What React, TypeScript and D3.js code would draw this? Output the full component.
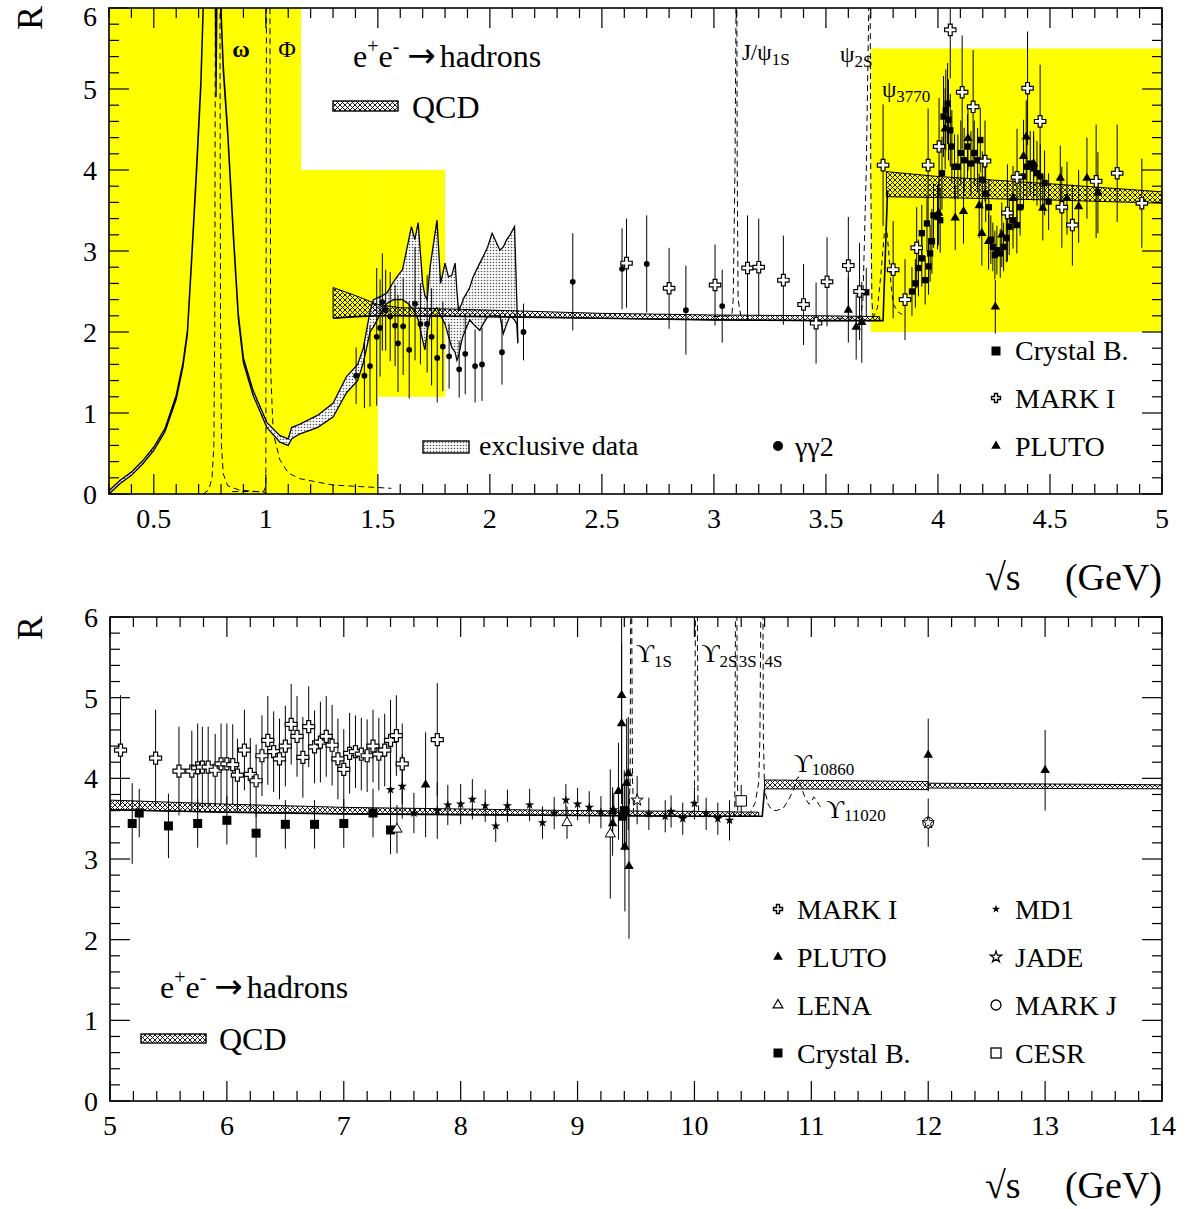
import React from "react";
import * as d3 from "d3";

// ---------------- data ----------------
// exclusive data band (top panel): x, lower, upper
const excX = [0.3, 0.35, 0.4, 0.45, 0.5, 0.55, 0.6, 0.63, 0.65, 0.67, 0.69, 0.71, 0.72, 0.73, 0.77, 0.775, 0.778, 0.783, 0.8, 0.81, 0.83, 0.855, 0.877, 0.9, 0.943, 1.005, 1.063, 1.1, 1.115, 1.15, 1.23, 1.3, 1.36, 1.41, 1.435, 1.465, 1.48, 1.52, 1.54, 1.57, 1.585, 1.61, 1.635, 1.65, 1.665, 1.68, 1.7, 1.71, 1.72, 1.733, 1.764, 1.78, 1.8, 1.815, 1.83, 1.845, 1.853, 1.86, 1.875, 1.88, 1.91, 1.925, 1.955, 1.97, 1.99, 2.01, 2.045, 2.06, 2.075, 2.09, 2.11, 2.12, 2.125];
const excLo = [0.0, 0.13, 0.23, 0.37, 0.54, 0.77, 1.17, 1.57, 1.97, 2.92, 3.92, 5.02, 5.92, 7.0, 7.0, 6.0, 4.9, 6.5, 5.92, 5.22, 4.42, 3.17, 2.17, 1.62, 1.22, 0.82, 0.64, 0.6, 0.68, 0.74, 0.82, 0.95, 1.25, 1.4, 1.62, 2.0, 2.06, 2.27, 2.35, 2.4, 2.4, 2.4, 2.35, 2.3, 2.25, 2.15, 1.9, 1.78, 2.0, 2.2, 2.3, 2.2, 2.1, 1.95, 1.81, 1.75, 1.65, 1.7, 1.9, 1.95, 2.15, 2.1, 2.02, 2.1, 2.19, 2.2, 2.2, 1.98, 2.1, 2.2, 2.15, 2.1, 1.86];
const excHi = [0.04, 0.17, 0.27, 0.41, 0.58, 0.81, 1.22, 1.62, 2.02, 2.98, 4.0, 5.1, 6.0, 7.2, 7.2, 6.2, 5.2, 7.0, 6.0, 5.3, 4.48, 3.24, 2.23, 1.68, 1.28, 0.88, 0.72, 0.68, 0.82, 0.86, 0.97, 1.12, 1.45, 1.6, 1.8, 2.25, 2.4, 2.45, 2.48, 2.62, 2.68, 2.77, 3.1, 3.3, 3.14, 3.35, 2.6, 2.45, 2.4, 2.8, 3.38, 2.6, 2.85, 2.68, 2.7, 2.85, 2.5, 2.27, 2.35, 2.4, 2.55, 2.68, 2.85, 2.93, 3.05, 3.22, 3.01, 3.05, 3.14, 3.2, 3.3, 2.4, 1.9];

// QCD bands (top panel)
const qcdT1X = [1.3, 1.4, 1.5, 1.6, 2.0, 2.5, 3.0, 3.5, 3.74];
const qcdT1Lo = [2.17, 2.19, 2.2, 2.2, 2.19, 2.17, 2.15, 2.14, 2.14];
const qcdT1Hi = [2.55, 2.45, 2.34, 2.3, 2.27, 2.23, 2.21, 2.2, 2.19];
const qcdT2X = [3.77, 4.0, 4.5, 5.0];
const qcdT2Lo = [3.67, 3.66, 3.63, 3.59];
const qcdT2Hi = [3.98, 3.92, 3.83, 3.73];
const stepTop = [[3.74, 2.14], [3.755, 2.14], [3.775, 3.75]];

// QCD bands (bottom panel)
const qcdB1X = [5.0, 6, 7, 8, 9, 10, 10.55];
const qcdB1Lo = [3.61, 3.58, 3.56, 3.55, 3.54, 3.53, 3.53];
const qcdB1Hi = [3.73, 3.68, 3.64, 3.62, 3.6, 3.59, 3.58];
const qcdB2X = [10.6, 12.0];
const qcdB2Lo = [3.87, 3.86];
const qcdB2Hi = [3.98, 3.96];
const qcdB3X = [12.0, 14.0];
const qcdB3Lo = [3.88, 3.87];
const qcdB3Hi = [3.94, 3.92];
const stepBot = [[10.55, 3.53], [10.58, 3.53], [10.6, 3.87]];

// resonance curves (dashed)
const omegaCurve = [[0.72, 0.0], [0.745, 0.05], [0.76, 0.2], [0.768, 0.6], [0.772, 2], [0.775, 6.5], [0.795, 6.5], [0.798, 2], [0.802, 0.6], [0.81, 0.25], [0.83, 0.1], [0.88, 0.05], [1.0, 0.02]];
const phiCurve = [[0.85, 0.03], [0.99, 0.03], [1.0, 0.1], [1.003, 6.5], [1.018, 6.5], [1.022, 1.5], [1.033, 0.75], [1.063, 0.42], [1.1, 0.26], [1.15, 0.19], [1.3, 0.11], [1.5, 0.08], [1.56, 0.07]];
const jpsiCurve = [[3.0, 2.19], [3.08, 2.2], [3.086, 2.4], [3.094, 4], [3.1, 6.5], [3.102, 6.5], [3.104, 4], [3.108, 2.4], [3.12, 2.2]];
const psi2Curve = [[3.55, 2.17], [3.655, 2.18], [3.665, 2.4], [3.68, 4], [3.694, 6.5], [3.697, 6.5], [3.7, 4], [3.705, 2.4], [3.71, 2.2]];
const psi3770Curve = [[3.71, 2.17], [3.73, 2.3], [3.745, 2.7], [3.76, 3.2], [3.77, 3.3], [3.78, 3.0], [3.79, 2.6], [3.8, 2.35], [3.82, 2.25], [3.85, 2.2]];
const ups1Curve = [[9.35, 3.55], [9.44, 3.56], [9.45, 4], [9.455, 6.5], [9.462, 6.5], [9.47, 4], [9.48, 3.56]];
const ups2Curve = [[9.95, 3.56], [9.99, 3.6], [10.0, 3.7], [10.01, 6.5], [10.025, 6.5], [10.03, 3.7], [10.04, 3.56]];
const ups3Curve = [[10.33, 3.52], [10.345, 3.6], [10.352, 6.5], [10.362, 6.5], [10.37, 3.6], [10.38, 3.52]];
const ups4Curve = [[10.45, 3.55], [10.48, 3.58], [10.52, 3.7], [10.55, 3.95], [10.56, 4.5], [10.57, 6.5], [10.585, 6.5], [10.59, 4.5], [10.6, 3.86], [10.63, 3.68], [10.66, 3.61], [10.7, 3.6], [10.76, 3.63], [10.8, 3.72], [10.85, 3.86], [10.87, 3.98], [10.89, 4.02], [10.91, 3.9], [10.95, 3.75], [10.98, 3.68], [11.0, 3.7], [11.02, 3.77], [11.04, 3.74], [11.07, 3.66], [11.1, 3.61]];

// yellow regions (top panel): xmin, xmax, Rmin, Rmax
const yellowRegions = [[0.3, 1.157, 0, 6], [0.3, 1.5, 0, 4], [1.5, 1.8, 1.2, 4], [3.7, 5.0, 2, 5.5]];

// measurements: [sqrt(s), R, error]
const gg2Top = [[1.403, 1.46, 0.35], [1.44, 1.46, 0.4], [1.465, 1.58, 0.5], [1.495, 1.94, 0.85], [1.51, 2.05, 0.6], [1.52, 2.37, 0.6], [1.535, 2.27, 0.5], [1.555, 2.19, 0.55], [1.577, 2.08, 0.5], [1.59, 1.86, 0.6], [1.613, 2.07, 0.6], [1.64, 1.78, 0.6], [1.666, 2.35, 0.7], [1.69, 2.1, 0.5], [1.72, 2.1, 0.6], [1.74, 1.94, 0.6], [1.765, 1.68, 0.55], [1.79, 1.82, 0.55], [1.818, 1.7, 0.4], [1.863, 1.54, 0.35], [1.89, 1.73, 0.5], [1.934, 1.58, 0.45], [1.965, 1.6, 0.45], [2.054, 1.75, 0.4], [2.15, 2.0, 0.35], [2.37, 2.62, 0.6], [2.59, 2.78, 0.5], [2.7, 2.84, 0.6], [2.875, 2.27, 0.55], [3.037, 2.32, 0.45]];
const markITop = [[2.61, 2.85, 0.55], [2.8, 2.54, 0.5], [3.005, 2.58, 0.5], [3.15, 2.79, 0.65], [3.2, 2.8, 0.6], [3.31, 2.64, 0.55], [3.4, 2.34, 0.5], [3.456, 2.11, 0.5], [3.505, 2.62, 0.55], [3.6, 2.82, 0.6], [3.65, 2.5, 0.6], [3.755, 4.06, 0.75], [3.8, 2.77, 0.6], [3.853, 2.4, 0.5], [3.905, 3.04, 0.5], [3.956, 4.06, 0.7], [4.005, 4.29, 0.6], [4.055, 5.73, 0.6], [4.108, 4.96, 0.7], [4.157, 4.78, 0.7], [4.21, 4.11, 0.5], [4.31, 3.47, 0.6], [4.353, 3.91, 0.6], [4.4, 5.01, 0.7], [4.456, 4.6, 0.7], [4.553, 3.54, 0.5], [4.6, 3.32, 0.5], [4.706, 3.86, 0.7], [4.8, 3.96, 0.6], [4.91, 3.59, 0.55]];
const plutoTop = [[3.6, 2.27, 0.4], [3.635, 2.06, 0.4], [3.66, 2.12, 0.5], [4.003, 3.47, 0.4], [4.032, 4.51, 0.5], [4.077, 3.41, 0.4], [4.114, 3.49, 0.4], [4.134, 4.39, 0.4], [4.184, 3.56, 0.4], [4.196, 3.22, 0.4], [4.226, 3.12, 0.35], [4.256, 2.31, 0.33], [4.285, 3.2, 0.4], [4.335, 3.65, 0.4], [4.382, 4.17, 0.45], [4.394, 4.41, 0.45], [4.427, 4.08, 0.4], [4.468, 3.53, 0.4], [4.546, 3.9, 0.4], [4.576, 3.65, 0.45], [4.628, 3.55, 0.45], [4.665, 3.9, 0.5], [4.714, 3.72, 0.5]];
const crystalTop = [[3.68, 2.49, 0.3], [3.884, 2.5, 0.3], [3.899, 2.6, 0.3], [3.913, 2.79, 0.35], [3.928, 2.91, 0.35], [3.943, 2.64, 0.3], [3.958, 2.81, 0.35], [3.928, 3.22, 0.35], [3.951, 3.34, 0.35], [3.965, 2.97, 0.35], [3.973, 3.12, 0.4], [3.98, 3.44, 0.4], [3.998, 3.42, 0.4], [4.01, 3.38, 0.4], [4.018, 3.96, 0.45], [4.025, 4.66, 0.5], [4.035, 4.74, 0.5], [4.043, 4.82, 0.5], [4.047, 4.62, 0.5], [4.055, 4.49, 0.45], [4.062, 4.29, 0.45], [4.074, 4.04, 0.4], [4.089, 4.04, 0.4], [4.102, 4.21, 0.4], [4.117, 4.12, 0.4], [4.132, 4.29, 0.4], [4.147, 4.08, 0.4], [4.162, 4.21, 0.4], [4.177, 4.12, 0.4], [4.189, 4.37, 0.4], [4.198, 3.88, 0.35], [4.213, 3.71, 0.35], [4.227, 3.54, 0.35], [4.236, 3.14, 0.3], [4.245, 3.05, 0.3], [4.254, 2.95, 0.3], [4.263, 3.01, 0.3], [4.278, 2.97, 0.3], [4.293, 3.05, 0.3], [4.305, 3.16, 0.3], [4.318, 3.3, 0.35], [4.335, 3.38, 0.35], [4.352, 3.32, 0.35], [4.367, 3.54, 0.35], [4.382, 3.92, 0.4], [4.397, 4.04, 0.4], [4.412, 4.08, 0.4], [4.427, 4.02, 0.4], [4.442, 3.96, 0.4], [4.457, 3.92, 0.4], [4.476, 3.84, 0.4], [4.494, 3.61, 0.35]];

const markIBot = [[5.09, 4.35, 0.68], [5.39, 4.25, 0.6], [5.59, 4.09, 0.55], [5.7, 4.09, 0.5], [5.75, 4.13, 0.55], [5.79, 4.14, 0.5], [5.84, 4.14, 0.5], [5.9, 4.1, 0.45], [5.95, 4.18, 0.5], [6.0, 4.18, 0.5], [6.05, 4.17, 0.5], [6.09, 4.04, 0.45], [6.15, 4.35, 0.5], [6.2, 4.05, 0.45], [6.25, 3.97, 0.45], [6.3, 4.28, 0.5], [6.35, 4.47, 0.55], [6.4, 4.33, 0.5], [6.45, 4.24, 0.5], [6.5, 4.4, 0.5], [6.55, 4.67, 0.5], [6.6, 4.52, 0.5], [6.65, 4.26, 0.5], [6.7, 4.64, 0.5], [6.75, 4.39, 0.45], [6.8, 4.45, 0.5], [6.85, 4.52, 0.5], [6.9, 4.41, 0.5], [6.95, 4.24, 0.5], [7.0, 4.11, 0.5], [7.05, 4.31, 0.5], [7.1, 4.33, 0.45], [7.15, 4.3, 0.45], [7.2, 4.28, 0.45], [7.25, 4.4, 0.45], [7.3, 4.3, 0.45], [7.35, 4.35, 0.45], [7.4, 4.47, 0.5], [7.45, 4.53, 0.5], [7.5, 4.18, 0.5], [7.8, 4.48, 0.7]];
const crystalBot = [[5.19, 3.44, 0.5], [5.25, 3.57, 0.3], [5.5, 3.41, 0.4], [5.75, 3.44, 0.3], [6.0, 3.48, 0.3], [6.25, 3.32, 0.3], [6.5, 3.43, 0.3], [6.75, 3.43, 0.3], [7.0, 3.44, 0.3], [7.25, 3.57, 0.3], [7.4, 3.36, 0.3], [9.385, 3.53, 0.4], [9.4, 3.6, 0.5]];
const md1Bot = [[7.4, 3.86, 0.3], [7.5, 3.9, 0.4], [7.6, 3.57, 0.25], [7.8, 3.6, 0.35], [7.89, 3.67, 0.25], [8.0, 3.68, 0.25], [8.1, 3.74, 0.25], [8.21, 3.66, 0.2], [8.3, 3.41, 0.2], [8.4, 3.66, 0.2], [8.59, 3.67, 0.2], [8.7, 3.45, 0.2], [8.8, 3.57, 0.2], [8.9, 3.73, 0.2], [9.0, 3.68, 0.2], [9.1, 3.64, 0.2], [9.2, 3.58, 0.2], [9.31, 3.61, 0.2], [9.61, 3.56, 0.2], [9.75, 3.53, 0.2], [9.8, 3.59, 0.2], [9.9, 3.5, 0.2], [10.0, 3.69, 0.2], [10.1, 3.56, 0.2], [10.2, 3.5, 0.2], [10.3, 3.48, 0.25]];
const plutoBot = [[7.7, 3.92, 0.65], [9.3, 3.59, 0.3], [9.3, 3.44, 0.4], [9.35, 3.84, 0.6], [9.377, 5.03, 1.2], [9.377, 4.68, 1.0], [9.405, 3.15, 0.8], [9.42, 3.94, 0.8], [9.434, 4.06, 0.7], [9.44, 2.91, 0.9], [12.0, 4.29, 0.45], [13.0, 4.1, 0.5]];
const lenaBot = [[7.455, 3.37, 0.3], [8.91, 3.45, 0.2], [9.28, 3.31, 0.8]];
const jadeBot = [[9.51, 3.73, 0.3], [12.0, 3.45, 0.3]];
const markJBot = [[12.0, 3.45, 0.3]];
const cesrBot = [[10.4, 3.72, 0.2]];

// axis ticks
const TOP_X_MAJOR = [0.5, 1, 1.5, 2, 2.5, 3, 3.5, 4, 4.5, 5];
const TOP_X_MINOR = d3.range(3, 51).map((i) => i / 10);
const BOT_X_MAJOR = d3.range(5, 15);
const BOT_X_MINOR = d3.range(25, 71).map((i) => i / 5);
const Y_MAJOR = [0, 1, 2, 3, 4, 5, 6];
const Y_MINOR = d3.range(0, 31).map((i) => i / 5);

const FONT = "'Liberation Serif', 'Times New Roman', serif";

const SYM: Record<string, any> = {
  cross: d3.symbolCross,
  square: d3.symbolSquare,
  tri: d3.symbolTriangle,
  circle: d3.symbolCircle,
  star: d3.symbolStar,
};

function sym(type: string, size: number) {
  return d3.symbol().type(SYM[type]).size(size)() as string;
}

function ErrBars({ data, x, y }: any) {
  return (
    <g stroke="#000" strokeWidth={1}>
      {data.map((d: number[], i: number) => (
        <line key={i} x1={x(d[0])} x2={x(d[0])} y1={y(d[1] - d[2])} y2={y(d[1] + d[2])} />
      ))}
    </g>
  );
}

function Marks({ data, x, y, type, size, fill, stroke = "#000", sw = 1 }: any) {
  const p = sym(type, size);
  return (
    <g>
      {data.map((d: number[], i: number) => (
        <path key={i} d={p} transform={`translate(${x(d[0])},${y(d[1])})`} fill={fill} stroke={stroke} strokeWidth={sw} />
      ))}
    </g>
  );
}

function Band({ xs, lo, hi, x, y, fill, sw = 1 }: any) {
  const pts = xs.map((v: number, i: number) => [v, lo[i], hi[i]]);
  const a = d3
    .area<number[]>()
    .x((d) => x(d[0]))
    .y0((d) => y(d[1]))
    .y1((d) => y(d[2]));
  return <path d={a(pts) as string} fill={fill} stroke="#000" strokeWidth={sw} />;
}

function Curve({ pts, x, y, dash = "6,4", sw = 1 }: any) {
  const l = d3
    .line<number[]>()
    .x((d) => x(d[0]))
    .y((d) => y(d[1]));
  return <path d={l(pts) as string} fill="none" stroke="#000" strokeWidth={sw} strokeDasharray={dash} />;
}

function Frame({ x, y, xMajor, xMinor, fmt }: any) {
  const [x0, x1] = x.range();
  const [yb, yt] = y.range();
  const els: any[] = [];
  let k = 0;
  const majX = new Set(xMajor.map((v: number) => Math.round(v * 1000)));
  xMinor.forEach((v: number) => {
    const px = x(v);
    const len = majX.has(Math.round(v * 1000)) ? 20 : 10;
    els.push(<line key={k++} x1={px} x2={px} y1={yb} y2={yb - len} />);
    els.push(<line key={k++} x1={px} x2={px} y1={yt} y2={yt + len} />);
  });
  Y_MINOR.forEach((v: number) => {
    const py = y(v);
    const len = Math.abs(v - Math.round(v)) < 1e-6 ? 20 : 10;
    els.push(<line key={k++} x1={x0} x2={x0 + len} y1={py} y2={py} />);
    els.push(<line key={k++} x1={x1} x2={x1 - len} y1={py} y2={py} />);
  });
  return (
    <g>
      <g stroke="#000" strokeWidth={1.2}>{els}</g>
      <rect x={x0} y={yt} width={x1 - x0} height={yb - yt} fill="none" stroke="#000" strokeWidth={1.6} />
      <g fontFamily={FONT} fontSize={28} fill="#000">
        {xMajor.map((v: number, i: number) => (
          <text key={i} x={x(v)} y={yb + 34} textAnchor="middle">{fmt(v)}</text>
        ))}
        {Y_MAJOR.map((v: number, i: number) => (
          <text key={i} x={x0 - 12} y={Math.max(y(v) + 10, 26)} textAnchor="end">{v}</text>
        ))}
      </g>
    </g>
  );
}

function Reaction({ x, y }: { x: number; y: number }) {
  return (
    <text x={x} y={y} fontSize={32}>
      e<tspan fontSize={20} dy={-14}>+</tspan>
      <tspan dy={14}>e</tspan>
      <tspan fontSize={20} dy={-14}>-</tspan>
      <tspan dy={14} dx={8} fontFamily="'DejaVu Sans', sans-serif" fontSize={34}>→</tspan>
      <tspan dx={4}>hadrons</tspan>
    </text>
  );
}

export default function App() {
  const xT = d3.scaleLinear().domain([0.3, 5]).range([109, 1162]);
  const yT = d3.scaleLinear().domain([0, 6]).range([494, 8]);
  const xB = d3.scaleLinear().domain([5, 14]).range([110, 1162]);
  const yB = d3.scaleLinear().domain([0, 6]).range([1101, 617]);
  const lineT = d3.line<number[]>().x((d) => xT(d[0])).y((d) => yT(d[1]));
  const lineB = d3.line<number[]>().x((d) => xB(d[0])).y((d) => yB(d[1]));

  return (
    <svg width={1193} height={1209} style={{ position: "absolute", left: 0, top: 0, background: "#fff" }} fontFamily={FONT}>
      <defs>
        <pattern id="hatch" width="5" height="5" patternUnits="userSpaceOnUse">
          <path d="M0,0L5,5M5,0L0,5M-1,4L1,6M4,-1L6,1" stroke="#000" strokeWidth={0.9} />
        </pattern>
        <pattern id="hatchW" width="5" height="5" patternUnits="userSpaceOnUse">
          <rect width="5" height="5" fill="#fff" />
          <path d="M0,0L5,5M5,0L0,5" stroke="#000" strokeWidth={0.9} />
        </pattern>
        <pattern id="dots" width="3" height="3" patternUnits="userSpaceOnUse">
          <rect width="3" height="3" fill="#fff" />
          <circle cx="1.5" cy="1.5" r="0.8" fill="#555" />
        </pattern>
        <clipPath id="clipT">
          <rect x={109} y={8} width={1053} height={486} />
        </clipPath>
        <clipPath id="clipB">
          <rect x={110} y={617} width={1052} height={484} />
        </clipPath>
      </defs>

      {/* ---------------- TOP PANEL ---------------- */}
      <g clipPath="url(#clipT)">
        {yellowRegions.map((r, i) => (
          <rect key={i} x={xT(r[0])} y={yT(r[3])} width={xT(r[1]) - xT(r[0])} height={yT(r[2]) - yT(r[3])} fill="#ffff00" />
        ))}
        <Curve pts={omegaCurve} x={xT} y={yT} />
        <Curve pts={phiCurve} x={xT} y={yT} />
        <Curve pts={jpsiCurve} x={xT} y={yT} />
        <Curve pts={psi2Curve} x={xT} y={yT} />
        <Curve pts={psi3770Curve} x={xT} y={yT} dash="5,4" />
        <Band xs={excX} lo={excLo} hi={excHi} x={xT} y={yT} fill="url(#dots)" sw={1.3} />
        <Band xs={qcdT1X} lo={qcdT1Lo} hi={qcdT1Hi} x={xT} y={yT} fill="url(#hatch)" />
        <Band xs={qcdT2X} lo={qcdT2Lo} hi={qcdT2Hi} x={xT} y={yT} fill="url(#hatch)" />
        <path d={lineT(qcdT1X.map((v, i) => [v, qcdT1Lo[i]])) as string} fill="none" stroke="#000" strokeWidth={1.6} />
        <path d={lineT(stepTop) as string} fill="none" stroke="#000" strokeWidth={1.6} />
        <ErrBars data={gg2Top} x={xT} y={yT} />
        <ErrBars data={markITop} x={xT} y={yT} />
        <ErrBars data={plutoTop} x={xT} y={yT} />
        <ErrBars data={crystalTop} x={xT} y={yT} />
        <Marks data={gg2Top} x={xT} y={yT} type="circle" size={26} fill="#000" stroke="none" />
        <Marks data={crystalTop} x={xT} y={yT} type="square" size={40} fill="#000" stroke="none" />
        <Marks data={plutoTop} x={xT} y={yT} type="tri" size={38} fill="#000" stroke="none" />
        <Marks data={markITop} x={xT} y={yT} type="cross" size={72} fill="#fff" sw={1.2} />
      </g>
      <Frame x={xT} y={yT} xMajor={TOP_X_MAJOR} xMinor={TOP_X_MINOR} fmt={(v: number) => String(v)} />

      {/* resonance labels top */}
      <g fontSize={24} fill="#000">
        <text x={xT(0.85)} y={yT(5.4)} fontWeight="bold">ω</text>
        <text x={xT(1.055)} y={yT(5.4)}>Φ</text>
        <text x={xT(3.125)} y={yT(5.36)} fontSize={23}>J/ψ<tspan fontSize={17} dy={5}>1S</tspan></text>
        <text x={xT(3.563)} y={yT(5.33)} fontSize={23}>ψ<tspan fontSize={17} dy={5}>2S</tspan></text>
        <text x={xT(3.75)} y={yT(4.9)} fontSize={23}>ψ<tspan fontSize={17} dy={5}>3770</tspan></text>
      </g>

      {/* top legends */}
      <Reaction x={353} y={67} />
      <rect x={333} y={101} width={65} height={10} fill="url(#hatchW)" stroke="#000" strokeWidth={1.4} />
      <text x={412} y={118} fontSize={32}>QCD</text>
      <rect x={423} y={441} width={46} height={12} fill="url(#dots)" stroke="#000" strokeWidth={1.4} />
      <text x={479} y={455} fontSize={28}>exclusive data</text>
      <circle cx={778} cy={446} r={5} fill="#000" />
      <text x={795} y={456} fontSize={28}>γγ2</text>
      <path d={sym("square", 81)} transform="translate(996,351)" fill="#000" />
      <text x={1015} y={360} fontSize={28}>Crystal B.</text>
      <path d={sym("cross", 45)} transform="translate(996,398)" fill="#fff" stroke="#000" strokeWidth={1.4} />
      <text x={1015} y={408} fontSize={28}>MARK I</text>
      <path d={sym("tri", 40)} transform="translate(996,446)" fill="#000" />
      <text x={1015} y={456} fontSize={28}>PLUTO</text>

      {/* axis labels top */}
      <text transform="translate(42,18) rotate(-90)" textAnchor="middle" fontSize={36}>R</text>
      <text x={985} y={590} fontSize={38}>√s</text>
      <text x={1162} y={590} fontSize={38} textAnchor="end">(GeV)</text>

      {/* ---------------- BOTTOM PANEL ---------------- */}
      <g clipPath="url(#clipB)">
        <Curve pts={ups1Curve} x={xB} y={yB} />
        <Curve pts={ups2Curve} x={xB} y={yB} />
        <Curve pts={ups3Curve} x={xB} y={yB} />
        <Curve pts={ups4Curve} x={xB} y={yB} />
        <Band xs={qcdB1X} lo={qcdB1Lo} hi={qcdB1Hi} x={xB} y={yB} fill="url(#hatch)" />
        <Band xs={qcdB2X} lo={qcdB2Lo} hi={qcdB2Hi} x={xB} y={yB} fill="url(#hatch)" />
        <Band xs={qcdB3X} lo={qcdB3Lo} hi={qcdB3Hi} x={xB} y={yB} fill="url(#hatch)" />
        <path d={lineB(qcdB1X.map((v, i) => [v, qcdB1Lo[i]])) as string} fill="none" stroke="#000" strokeWidth={1.6} />
        <path d={lineB(stepBot) as string} fill="none" stroke="#000" strokeWidth={1.6} />
        <ErrBars data={markIBot} x={xB} y={yB} />
        <ErrBars data={crystalBot} x={xB} y={yB} />
        <ErrBars data={md1Bot} x={xB} y={yB} />
        <ErrBars data={plutoBot} x={xB} y={yB} />
        <ErrBars data={lenaBot} x={xB} y={yB} />
        <ErrBars data={jadeBot} x={xB} y={yB} />
        <ErrBars data={cesrBot} x={xB} y={yB} />
        <Marks data={crystalBot} x={xB} y={yB} type="square" size={81} fill="#000" stroke="none" />
        <Marks data={md1Bot} x={xB} y={yB} type="star" size={28} fill="#000" stroke="none" />
        <Marks data={lenaBot} x={xB} y={yB} type="tri" size={45} fill="#fff" />
        <Marks data={plutoBot} x={xB} y={yB} type="tri" size={40} fill="#000" stroke="none" />
        <Marks data={markJBot} x={xB} y={yB} type="circle" size={90} fill="#fff" />
        <Marks data={jadeBot} x={xB} y={yB} type="star" size={45} fill="#fff" />
        <Marks data={cesrBot} x={xB} y={yB} type="square" size={110} fill="#fff" />
        <Marks data={markIBot} x={xB} y={yB} type="cross" size={80} fill="#fff" sw={1.2} />
      </g>
      <Frame x={xB} y={yB} xMajor={BOT_X_MAJOR} xMinor={BOT_X_MINOR} fmt={(v: number) => String(v)} />

      {/* resonance labels bottom */}
      <g fontSize={25} fill="#000">
        <text x={xB(9.5)} y={yB(5.44)}>ϒ<tspan fontSize={17} dy={5}>1S</tspan></text>
        <text x={xB(10.06)} y={yB(5.44)}>ϒ<tspan fontSize={17} dy={5}>2S</tspan></text>
        <text x={xB(10.38)} y={yB(5.44) + 5} fontSize={17}>3S</text>
        <text x={xB(10.6)} y={yB(5.44) + 5} fontSize={17}>4S</text>
        <text x={xB(10.85)} y={yB(4.08)}>ϒ<tspan fontSize={17} dy={3}>10860</tspan></text>
        <text x={xB(11.125)} y={yB(3.51)}>ϒ<tspan fontSize={17} dy={3}>11020</tspan></text>
      </g>

      {/* bottom legends */}
      <Reaction x={160} y={998} />
      <rect x={141} y={1034} width={65} height={9} fill="url(#hatchW)" stroke="#000" strokeWidth={1.4} />
      <text x={219} y={1050} fontSize={32}>QCD</text>

      <path d={sym("cross", 45)} transform="translate(778,909)" fill="#fff" stroke="#000" strokeWidth={1.4} />
      <text x={797} y={919} fontSize={28}>MARK I</text>
      <path d={sym("tri", 40)} transform="translate(778,957)" fill="#000" />
      <text x={797} y={967} fontSize={28}>PLUTO</text>
      <path d={sym("tri", 40)} transform="translate(778,1005)" fill="#fff" stroke="#000" strokeWidth={1.2} />
      <text x={797} y={1015} fontSize={28}>LENA</text>
      <path d={sym("square", 81)} transform="translate(778,1053)" fill="#000" />
      <text x={797} y={1063} fontSize={28}>Crystal B.</text>

      <path d={sym("star", 22)} transform="translate(996,909)" fill="#000" />
      <text x={1015} y={919} fontSize={28}>MD1</text>
      <path d={sym("star", 40)} transform="translate(996,957)" fill="#fff" stroke="#000" strokeWidth={1.2} />
      <text x={1015} y={967} fontSize={28}>JADE</text>
      <circle cx={996} cy={1005} r={5} fill="#fff" stroke="#000" strokeWidth={1.3} />
      <text x={1015} y={1015} fontSize={28}>MARK J</text>
      <rect x={991} y={1048} width={10} height={10} fill="#fff" stroke="#000" strokeWidth={1.3} />
      <text x={1015} y={1063} fontSize={28}>CESR</text>

      <text transform="translate(42,628) rotate(-90)" textAnchor="middle" fontSize={36}>R</text>
      <text x={985} y={1198} fontSize={38}>√s</text>
      <text x={1162} y={1198} fontSize={38} textAnchor="end">(GeV)</text>
    </svg>
  );
}
